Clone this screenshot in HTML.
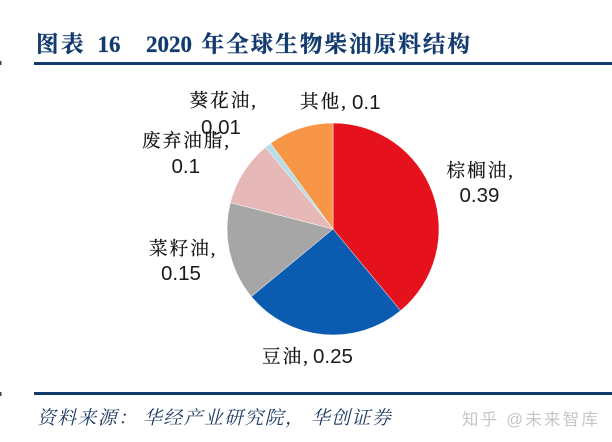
<!DOCTYPE html>
<html lang="zh">
<head>
<meta charset="utf-8">
<title>2020 年全球生物柴油原料结构</title>
<style>
html,body{margin:0;padding:0;background:#fff;width:612px;height:442px;overflow:hidden}
svg{display:block}
.cjk{font-family:"Liberation Serif","Noto Serif CJK SC",serif;font-size:18.6px;fill:#111;stroke:#111;stroke-width:.2;letter-spacing:2px}
.num{font-family:"Liberation Sans","Noto Sans CJK SC",sans-serif;font-size:20.5px;fill:#1a1a1a}
.ttl{font-family:"Liberation Serif","Noto Serif CJK SC",serif;font-size:22.6px;font-weight:700;fill:#123a6e;stroke:#123a6e;stroke-width:.3}
.ttn{font-family:"Liberation Serif","Noto Serif CJK SC",serif;font-size:23px;font-weight:700;fill:#123a6e;stroke:#123a6e;stroke-width:.2}
.src{font-family:"Liberation Serif","Noto Serif CJK SC",serif;font-style:italic;font-size:18.8px;fill:#1d3a63;letter-spacing:1.5px}
</style>
</head>
<body>
<svg id="chart" width="612" height="442" viewBox="0 0 612 442" xmlns="http://www.w3.org/2000/svg">
  <rect x="0" y="61" width="1.5" height="4" fill="#444"/>
  <rect x="0" y="392" width="1.5" height="4" fill="#444"/>
  <g>
    <text class="ttl" x="36" y="52" letter-spacing="2.4">图表</text>
    <text class="ttn" x="97.5" y="52">16</text>
    <text class="ttn" x="146" y="52">2020</text>
    <text class="ttl" x="201.5" y="52" letter-spacing="2">年全球生物柴油原料结构</text>
  </g>
  <rect x="34" y="62" width="578" height="3" fill="#123a6b"/>
  <g id="slices"></g>
  <g>
    <text class="cjk" x="446.5" y="177">棕榈油,</text>
    <text class="num" x="459.5" y="202">0.39</text>
    <text class="cjk" x="262" y="363">豆油,</text>
    <text class="num" x="313" y="363">0.25</text>
    <text class="cjk" x="149" y="255">菜籽油,</text>
    <text class="num" x="161" y="280">0.15</text>
    <text class="cjk" x="142" y="147">废弃油脂,</text>
    <text class="num" x="171.5" y="173">0.1</text>
    <text class="cjk" x="189.5" y="107">葵花油,</text>
    <text class="num" x="201" y="134">0.01</text>
    <text class="cjk" x="300" y="108">其他,</text>
    <text class="num" x="352" y="109">0.1</text>
  </g>
  <rect x="34" y="392" width="578" height="3" fill="#123a6b"/>
  <g>
    <text class="src" x="37" y="424">资料来源：</text>
    <text class="src" x="143" y="424">华经产业研究院，</text>
    <text class="src" x="311" y="424">华创证券</text>
  </g>
  <text x="462" y="425" font-family="'Liberation Sans','Noto Sans CJK SC',sans-serif" font-size="16.5" fill="#c6c6c6" textLength="136" lengthAdjust="spacing">知乎 @未来智库</text>
</svg>
<script>
const categories = ['棕榈油', '豆油', '菜籽油', '废弃油脂', '葵花油', '其他'];
const seriesValues = [0.39, 0.25, 0.15, 0.1, 0.01, 0.1];
const sliceColors = ['#e5121d', '#0b5cb0', '#a6a6a6', '#e6b8b7', '#b7dde8', '#f79646'];

const cx = 333;
const cy = 229;
const radius = 106;
const total = seriesValues.reduce(function (a, b) { return a + b; }, 0);
function valueToAngle(v) { return v / total * Math.PI * 2; }
function pointAt(angle) {
  return [cx + radius * Math.sin(angle), cy - radius * Math.cos(angle)];
}
const group = document.getElementById('slices');
let cumulative = 0;
seriesValues.forEach(function (v, i) {
  const a0 = valueToAngle(cumulative);
  cumulative += v;
  const a1 = valueToAngle(cumulative);
  const p0 = pointAt(a0);
  const p1 = pointAt(a1);
  const large = a1 - a0 > Math.PI ? 1 : 0;
  const path = document.createElementNS('http://www.w3.org/2000/svg', 'path');
  path.setAttribute('d', 'M' + cx + ' ' + cy + ' L' + p0[0] + ' ' + p0[1] + ' A' + radius + ' ' + radius + ' 0 ' + large + ' 1 ' + p1[0] + ' ' + p1[1] + ' Z');
  path.setAttribute('fill', sliceColors[i]);
  path.setAttribute('stroke', '#fff');
  path.setAttribute('stroke-width', '0.5');
  
  
  group.appendChild(path);
});
</script>
</body>
</html>
